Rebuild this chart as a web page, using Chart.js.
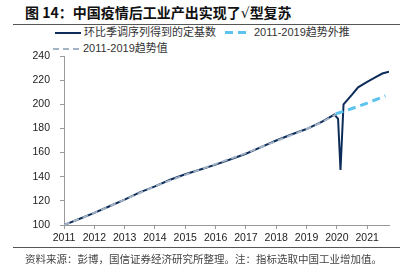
<!DOCTYPE html>
<html>
<head>
<meta charset="utf-8">
<script src="https://cdn.jsdelivr.net/npm/chart.js@4.4.1/dist/chart.umd.min.js"></script>
<style>
    html, body { margin: 0; padding: 0; background: #fff; }
    #wrap { position: relative; width: 409px; height: 276px; overflow: hidden;
            font-family: "Liberation Sans", "Noto Sans CJK SC", sans-serif; color: #333; }
    #chart { position: absolute; left: 0; top: 0; }
    .title { position: absolute; left: 25px; top: 2px; font-size: 14px; font-weight: bold;
             font-family: "Noto Sans CJK SC", sans-serif; color: #111; white-space: nowrap; }
    .title .root { font-family: "DejaVu Sans", sans-serif; font-weight: normal; }
    .rule { position: absolute; left: 13px; width: 387px; height: 1px; background: #555; }
    .legend-item { position: absolute; font-size: 11px; white-space: nowrap; line-height: 14px; }
    .sample { position: absolute; height: 2px; }
    .source { position: absolute; left: 25px; top: 251px; font-size: 10.5px; color: #444;
              font-family: "Noto Sans CJK SC", sans-serif; white-space: nowrap; }
</style>
</head>
<body>
<div id="wrap">
    <div class="title">图 14：中国疫情后工业产出实现了<span class="root">√</span>型复苏</div>
    <div class="rule" style="top:24px"></div>

    <div class="sample" style="left:55px; top:32px; width:26px; background:#0d2c5a;"></div>
    <div class="legend-item" style="left:84px; top:25px;">环比季调序列得到的定基数</div>
    <div class="sample" style="left:225px; top:31px; width:22px; height:3px;
         background:repeating-linear-gradient(90deg,#5cc3ef 0 8px,transparent 8px 13px);"></div>
    <div class="legend-item" style="left:254px; top:25px;">2011-2019趋势外推</div>
    <div class="sample" style="left:53px; top:48px; width:29px;
         background:repeating-linear-gradient(90deg,#a3b3c6 0 6px,transparent 6px 10px);"></div>
    <div class="legend-item" style="left:83px; top:41px;">2011-2019趋势值</div>

    <canvas id="chart" width="409" height="276"></canvas>

    <div class="rule" style="top:247px"></div>
    <div class="source">资料来源：彭博，国信证券经济研究所整理。注：指标选取中国工业增加值。</div>
</div>

<script>
/* =========================
   DATA
========================= */
const yearTicks = [2011, 2012, 2013, 2014, 2015, 2016, 2017, 2018, 2019, 2020, 2021];

const mainDates = [2011.0, 2011.5, 2012.0, 2012.5, 2013.0, 2013.5, 2014.0, 2014.5, 2015.0, 2015.5,
                   2016.0, 2016.5, 2017.0, 2017.5, 2018.0, 2018.5, 2019.0, 2019.5, 2019.92,
                   2020.04, 2020.12, 2020.22, 2020.5, 2020.7, 2021.0, 2021.25, 2021.5, 2021.72];
const mainValues = [100, 105, 110, 115.5, 121, 127, 132, 137.5, 142, 146,
                    150, 154.5, 159, 164.5, 170, 175, 179.5, 185.5, 191.5,
                    188, 145.5, 200, 208, 214, 218.5, 222, 225.5, 227];

const trendDates = [2011.0, 2011.5, 2012.0, 2012.5, 2013.0, 2013.5, 2014.0, 2014.5, 2015.0, 2015.5,
                    2016.0, 2016.5, 2017.0, 2017.5, 2018.0, 2018.5, 2019.0, 2019.5, 2019.96];
const trendValues = [100, 105, 110, 115.5, 121, 126.5, 132, 137, 141.5, 146,
                     150.5, 155, 159.5, 164.5, 169.5, 174.5, 179.5, 185, 191.5];

const extrapDates = [2019.96, 2020.5, 2021.0, 2021.6];
const extrapValues = [192, 196.5, 201, 207];

function toPoints(xs, ys) {
    return xs.map((x, i) => ({ x: x, y: ys[i] }));
}

/* =========================
   CHART
========================= */
const tickFont = { family: "Liberation Sans, Arial, sans-serif", size: 10.5 };

new Chart(document.getElementById("chart"), {
    type: "line",
    data: {
        datasets: [
            {
                label: "2011-2019趋势值",
                data: toPoints(trendDates, trendValues),
                borderColor: "#a3b3c6",
                borderWidth: 2,
                borderDash: [6, 4],
                order: 0
            },
            {
                label: "环比季调序列得到的定基数",
                data: toPoints(mainDates, mainValues),
                borderColor: "#0d2c5a",
                borderWidth: 2,
                order: 2
            },
            {
                label: "2011-2019趋势外推",
                data: toPoints(extrapDates, extrapValues),
                borderColor: "#5cc3ef",
                borderWidth: 3,
                borderDash: [8, 5],
                order: 1
            }
        ]
    },
    options: {
        responsive: false,
        animation: false,
        layout: { padding: { left: 0, right: 20, top: 56, bottom: 29 } },
        elements: {
            point: { radius: 0 },
            line: { tension: 0, fill: false }
        },
        plugins: {
            legend: { display: false },
            tooltip: { enabled: false }
        },
        scales: {
            x: {
                type: "linear",
                min: 2011,
                max: 2021.72,
                afterBuildTicks: (scale) => {
                    scale.ticks = yearTicks.map(v => ({ value: v }));
                },
                afterFit: (scale) => { scale.height = 22; },
                ticks: {
                    callback: (v) => String(v),
                    color: "#222",
                    font: tickFont,
                    padding: 3,
                    maxRotation: 0,
                    autoSkip: false
                },
                grid: { drawOnChartArea: false, tickLength: 4, color: "#999" },
                border: { color: "#999" }
            },
            y: {
                min: 100,
                max: 240,
                afterFit: (scale) => { scale.width = 64; },
                ticks: {
                    stepSize: 20,
                    color: "#222",
                    font: tickFont,
                    padding: 10
                },
                grid: { drawOnChartArea: false, tickLength: 4, color: "#999" },
                border: { color: "#999" }
            }
        }
    }
});
</script>
</body>
</html>
